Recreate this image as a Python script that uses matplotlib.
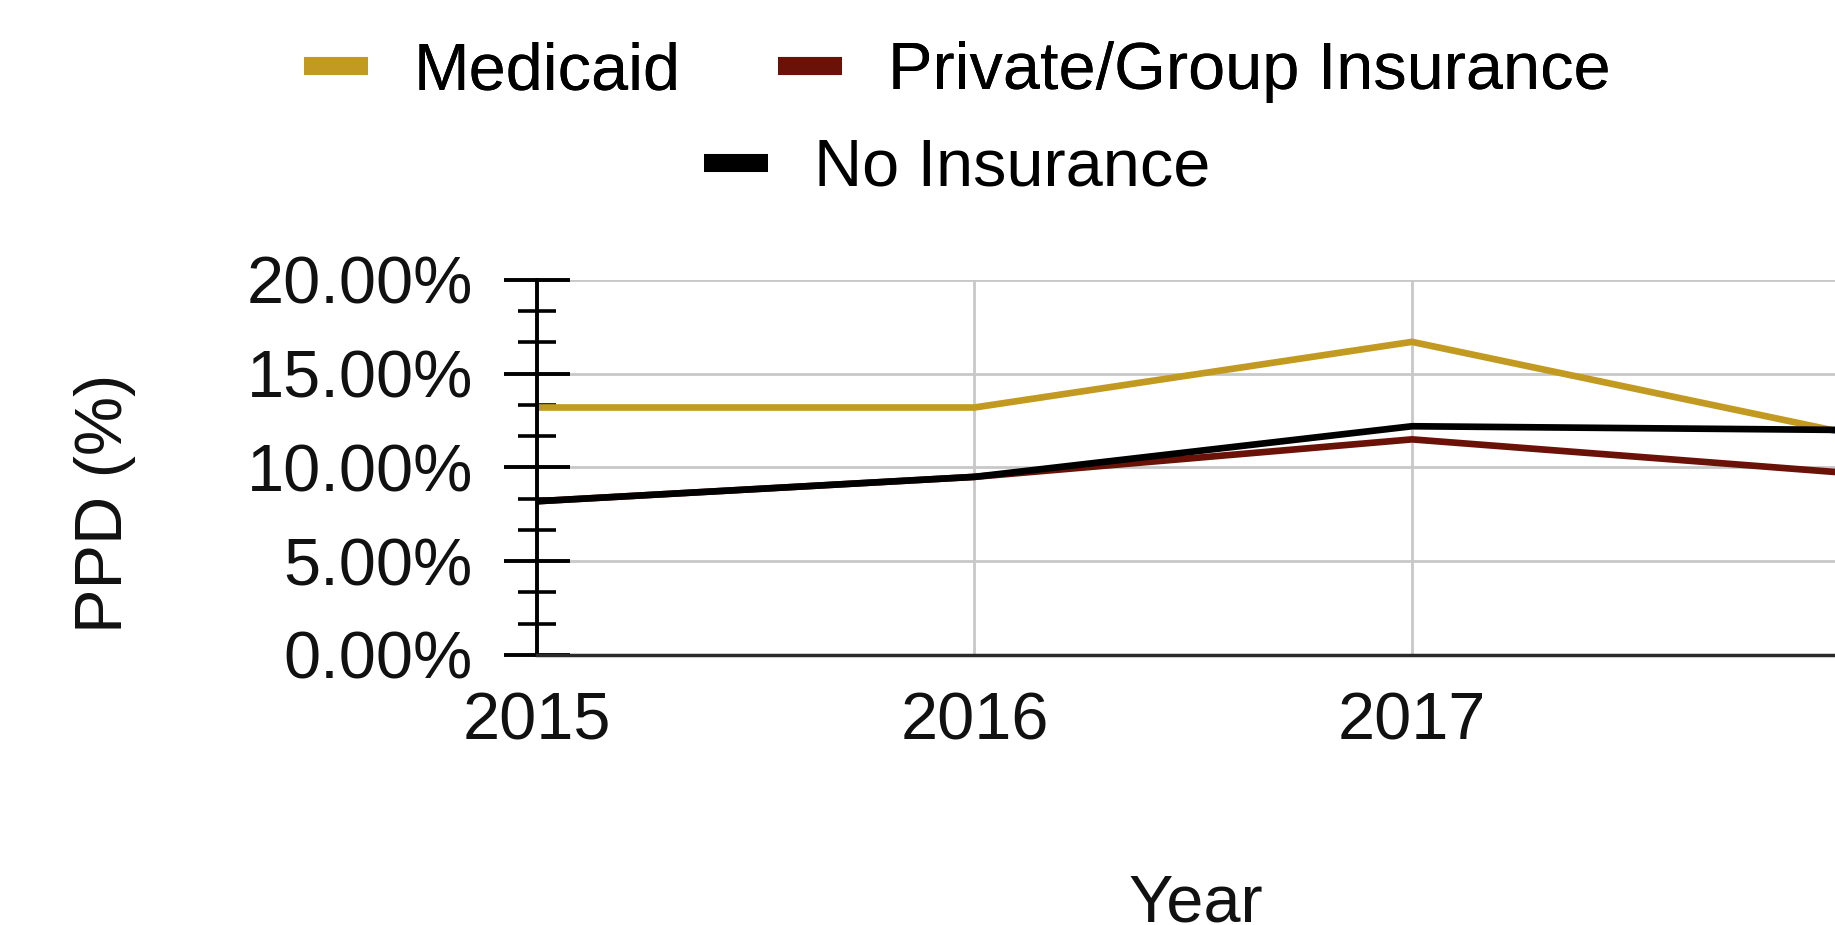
import matplotlib
matplotlib.use("Agg")
import matplotlib.pyplot as plt
from matplotlib.lines import Line2D
from matplotlib.ticker import MultipleLocator, FuncFormatter

# PPD rate by insurance type
years = [2015, 2016, 2017, 2018]
medicaid = [13.2, 13.2, 16.7, 11.8]
private_group = [8.2, 9.5, 11.5, 9.7]
no_insurance = [8.2, 9.5, 12.2, 12.0]
year_labels = ["2015", "2016", "2017"]

series_names = ["Medicaid", "Private/Group Insurance", "No Insurance"]
series_colors = ["#C29A22", "#6A1208", "#000000"]

plt.rcParams["font.family"] = ["Liberation Sans", "DejaVu Sans"]
fs = 48

fig = plt.figure(figsize=(18.35, 9.25), dpi=100)
ax = fig.add_axes([0.2926, 0.2919, 0.7153, 0.4054])

for vals, name, col in zip([medicaid, private_group, no_insurance], series_names, series_colors):
    ax.plot(years, vals, color=col, lw=4.8, label=name, solid_capstyle="butt")

ax.set_xlim(2015, 2018)
ax.set_ylim(0, 20)
ax.set_xticks(years[:3], year_labels)
ax.yaxis.set_major_locator(MultipleLocator(5))
ax.yaxis.set_minor_locator(MultipleLocator(5 / 3))
ax.yaxis.set_major_formatter(FuncFormatter(lambda v, p: "%.2f%%" % v))

ax.grid(True, which="major", color="#c8c8c8", lw=2)
ax.set_axisbelow(True)
ax.tick_params(axis="x", length=0, pad=26, labelsize=fs, labelcolor="#111111")
ax.tick_params(axis="y", which="major", direction="inout", length=48, width=2.8,
               pad=22, labelsize=fs, labelcolor="#111111")
ax.tick_params(axis="y", which="minor", direction="inout", length=27, width=2.6)

for s in ["top", "right"]:
    ax.spines[s].set_visible(False)
ax.spines["left"].set_linewidth(2.8)
ax.spines["left"].set_color("#000000")
ax.spines["bottom"].set_linewidth(2.5)
ax.spines["bottom"].set_color("#2a2a2a")

fig.text(105 / 1835, 1 - 503 / 925, "PPD (%)", rotation=90, ha="center", va="center",
         fontsize=fs, color="#111111")
fig.text(1196 / 1835, 1 - 921 / 925, "Year", ha="center", va="baseline",
         fontsize=fs, color="#111111")

# legend: two entries on the first row, one centred below
handles = [Line2D([], [], color=c, lw=13, solid_capstyle="butt") for c in series_colors]
leg1 = fig.legend(handles[:2], series_names[:2], loc="center", ncol=2,
                  bbox_to_anchor=(0.5216, 1 - 72 / 925), frameon=False, fontsize=fs,
                  handlelength=0.96, handletextpad=0.69, columnspacing=1.46,
                  borderpad=0, borderaxespad=0)
fig.add_artist(leg1)
fig.legend(handles[2:], series_names[2:], loc="center",
           bbox_to_anchor=(0.5216, 1 - 169 / 925), frameon=False, fontsize=fs,
           handlelength=0.96, handletextpad=0.69, borderpad=0, borderaxespad=0)

fig.savefig("out.png", dpi=100)
